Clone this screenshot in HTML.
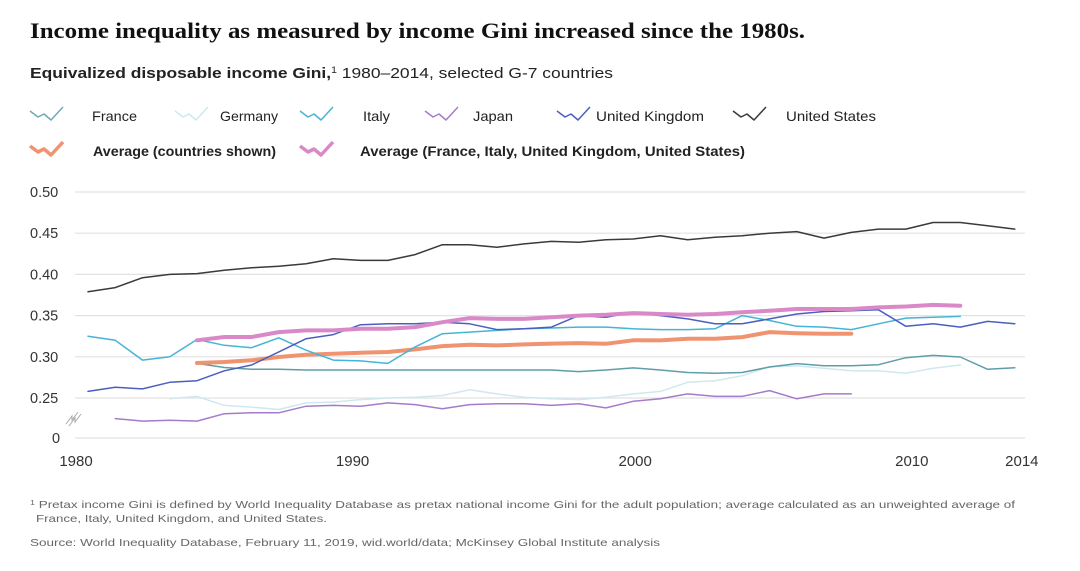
<!DOCTYPE html>
<html><head><meta charset="utf-8"><style>
body{margin:0;background:#fff;width:1080px;height:571px;overflow:hidden;font-family:"Liberation Sans",sans-serif;}
svg{display:block}
</style></head><body>
<svg width="1080" height="571" id="chart">
<text x="30" y="38" textLength="775" lengthAdjust="spacingAndGlyphs" font-family="Liberation Serif,serif" font-size="22" font-weight="bold" fill="#111">Income inequality as measured by income Gini increased since the 1980s.</text>
<text x="30" y="78" textLength="583" lengthAdjust="spacingAndGlyphs" font-size="15" fill="#222"><tspan font-weight="bold">Equivalized disposable income Gini,</tspan><tspan font-size="9" dy="-5">1</tspan><tspan dy="5"> 1980–2014, selected G-7 countries</tspan></text>
<g id="legend"></g>
<g id="grid"></g>
<g id="series"></g>
<g id="axes"></g>
<text x="30" y="508" textLength="985" lengthAdjust="spacingAndGlyphs" font-size="10.5" fill="#666"><tspan font-size="7" dy="-3">1</tspan><tspan dy="3"> Pretax income Gini is defined by World Inequality Database as pretax national income Gini for the adult population; average calculated as an unweighted average of</tspan></text>
<text x="36" y="522" textLength="291" lengthAdjust="spacingAndGlyphs" font-size="10.5" fill="#666">France, Italy, United Kingdom, and United States.</text>
<text x="30" y="546" textLength="630" lengthAdjust="spacingAndGlyphs" font-size="10.5" fill="#666">Source: World Inequality Database, February 11, 2019, wid.world/data; McKinsey Global Institute analysis</text>
</svg>
<script>
const yTicks=[0.50,0.45,0.40,0.35,0.30,0.25];
const yTickLabels=["0.50","0.45","0.40","0.35","0.30","0.25"];
const xTicks=[1980,1990,2000,2010,2014];
const usYears=[1980,2014];
const usVals=[.379,.384,.396,.400,.401,.405,.408,.410,.413,.419,.417,.417,.424,.436,.436,.433,.437,.440,.439,.442,.443,.447,.442,.445,.447,.450,.452,.444,.451,.455,.455,.463,.463,.459,.455];
const franceStart=1984;
const franceVals=[.292,.287,.285,.285,.284,.284,.284,.284,.284,.284,.284,.284,.284,.284,.282,.284,.2865,.284,.281,.280,.281,.2876,.2917,.2892,.2892,.2904,.2989,.3017,.2997,.2848,.2868];
const italyStart=1980;
const italyVals=[.325,.320,.296,.300,.321,.314,.311,.323,.308,.296,.295,.292,.312,.328,.330,.332,.334,.335,.336,.336,.334,.333,.333,.334,.350,.344,.337,.336,.333,.340,.347,.348,.349];
const ukStart=1980;
const ukVals=[.258,.263,.261,.269,.271,.283,.290,.306,.322,.327,.339,.340,.340,.342,.340,.333,.334,.336,.350,.348,.354,.350,.346,.340,.340,.346,.352,.355,.356,.357,.337,.340,.336,.343,.340];
const japanStart=1981;
const japanVals=[.225,.222,.223,.222,.231,.232,.232,.240,.241,.240,.244,.242,.237,.242,.243,.243,.241,.243,.238,.246,.249,.255,.252,.252,.259,.249,.255,.255];
const germanyStart=1983;
const germanyVals=[.249,.252,.241,.239,.236,.244,.245,.248,.250,.251,.253,.260,.255,.251,.249,.248,.251,.255,.258,.269,.271,.277,.288,.289,.286,.283,.283,.280,.286,.290];
const avgStart=1984;
const avgVals=[.2925,.2937,.2957,.2997,.3026,.3038,.305,.3058,.309,.313,.3147,.3138,.315,.316,.3166,.3158,.320,.3199,.3219,.3219,.3239,.330,.3287,.3279,.3279];
const avg4Start=1984;
const avg4Vals=[.320,.324,.324,.330,.332,.332,.334,.334,.336,.342,.347,.346,.346,.348,.350,.351,.353,.352,.351,.352,.354,.356,.358,.358,.358,.360,.361,.363,.362];

const NS="http://www.w3.org/2000/svg";
function X(yr){return 88+(yr-1980)*27.26;}
function Y(v){return 192+(0.50-v)/0.05*41.2;}
function mk(tag,attrs,parent){const e=document.createElementNS(NS,tag);for(const k in attrs)e.setAttribute(k,attrs[k]);parent.appendChild(e);return e;}
const grid=document.getElementById('grid'),axes=document.getElementById('axes'),ser=document.getElementById('series'),leg=document.getElementById('legend');
yTicks.forEach((t,i)=>{
 const l=mk('line',{x1:75,x2:1025,y1:Y(t),y2:Y(t),stroke:'#e2e2e2','stroke-width':1.2},grid);
 
 
 const tx=mk('text',{x:30,y:Y(t)+5,'font-size':14.5,fill:'#333'},axes);
 tx.textContent=yTickLabels[i];
 
 
});
const zl=mk('line',{x1:75,x2:1025,y1:438,y2:438,stroke:'#e2e2e2','stroke-width':1.2},grid);


const zt=mk('text',{x:52,y:443,'font-size':14.5,fill:'#333'},axes);zt.textContent='0';


const br=mk('path',{d:'M66,424 l6,-8 l0,4 l6,-8 M69,426 l6,-8 l0,4 l6,-8',stroke:'#aaa',fill:'none','stroke-width':1},axes);


xTicks.forEach(t=>{
 const off=t===1980?-12:t===1990?-8:t===2000?2:t===2010?6:7;
 const tx=mk('text',{x:X(t)+off,y:466,'font-size':15,fill:'#333','text-anchor':'middle'},axes);
 tx.textContent=t;
 
 
});
function line(start,vals,color,w,name){
 const pts=vals.map((v,i)=>X(start+i).toFixed(1)+','+Y(v).toFixed(1)).join(' ');
 const p=mk('polyline',{points:pts,fill:'none',stroke:color,'stroke-width':w,'stroke-linejoin':'round','stroke-linecap':'round'},ser);
 
 
}
line(germanyStart,germanyVals,'#cfe8ef',1.5,'germany-line');
line(japanStart,japanVals,'#a47cc9',1.5,'japan-line');
line(franceStart,franceVals,'#5f9ea8',1.5,'france-line');
line(avgStart,avgVals,'#ef9370',4,'average-line');
line(italyStart,italyVals,'#45b4d6',1.5,'italy-line');
line(ukStart,ukVals,'#4b5fbe',1.5,'uk-line');
line(avg4Start,avg4Vals,'#d989c8',4,'average-four-line');
line(usYears[0],usVals,'#3a3a3a',1.5,'us-line');
const legItems=[
 [30,117,'#6fa9b3',1.5,'France',92,false,45],[175,117,'#cfe8ef',1.5,'Germany',220,false,58],[300,117,'#45b4d6',1.5,'Italy',363,false,27],
 [425,117,'#a47cc9',1.5,'Japan',473,false,40],[557,117,'#4b5fbe',1.5,'United Kingdom',596,false,108],[733,117,'#3a3a3a',1.5,'United States',786,false,90],
 [30,152,'#ef9370',3.5,'Average (countries shown)',93,true,183],[300,152,'#d989c8',3.5,'Average (France, Italy, United Kingdom, United States)',360,true,385]];
legItems.forEach(it=>{
 const g=mk('g',{},leg);
 
 
 mk('polyline',{points:`${it[0]},${it[1]-6} ${it[0]+8},${it[1]} ${it[0]+14},${it[1]-3} ${it[0]+21},${it[1]+3} ${it[0]+33},${it[1]-10}`,fill:'none',stroke:it[2],'stroke-width':it[3],'stroke-linejoin':'round'},g);
 const t=mk('text',{x:it[5],y:it[1]+4,'font-size':14,fill:'#222','font-weight':it[6]?'bold':'normal',textLength:it[7],lengthAdjust:'spacingAndGlyphs'},g);
 t.textContent=it[4];
});
</script>
</body></html>
